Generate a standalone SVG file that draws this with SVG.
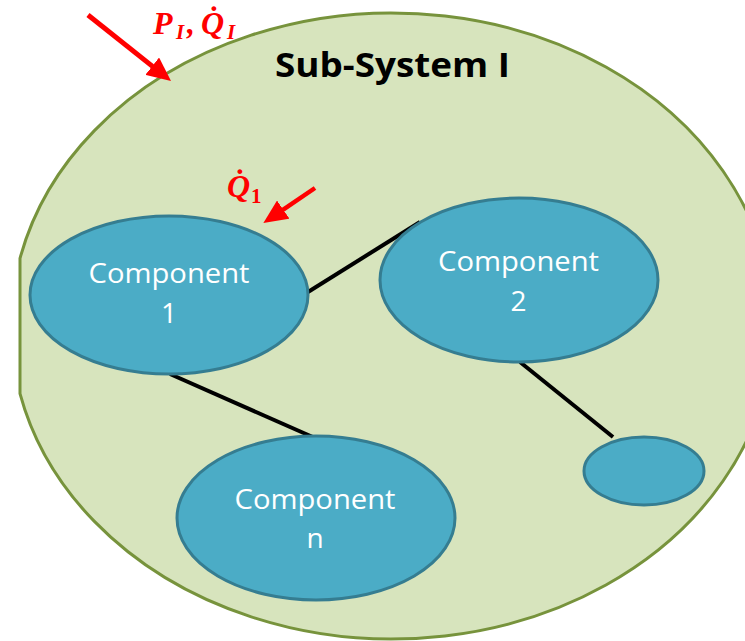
<svg xmlns="http://www.w3.org/2000/svg" width="745" height="641" viewBox="0 0 745 641">
<style>
.sys{fill:#d7e4bd;stroke:#77933c;stroke-width:3}
.comp{fill:#4bacc6;stroke:#357d91;stroke-width:3}
.ct{font-family:"Open Sans","Liberation Sans",sans-serif;font-size:28px;fill:#ffffff;text-anchor:middle}
.title{font-family:"Open Sans","Liberation Sans",sans-serif;font-weight:bold;font-size:34px;fill:#000000;text-anchor:middle}
.conn{stroke:#000000;stroke-width:4;fill:none}
.red{stroke:#ff0000;fill:none}
.lbl{font-family:"Liberation Serif","DejaVu Serif",serif;font-weight:bold;font-style:italic;font-size:32px;fill:#ff0000}
.sub{font-size:21px}
</style>
<defs>
<marker id="ah" markerUnits="userSpaceOnUse" markerWidth="24" markerHeight="22" refX="8" refY="11" orient="auto">
<path d="M0,0 L24,11 L0,22 Z" fill="#ff0000"/>
</marker>
</defs>
<rect width="745" height="641" fill="#ffffff"/>
<g id="subsystem">
<path class="sys" d="M20,258.4 A381,313 0 1,1 20,393.6 Z"/>
<text class="title" x="392.5" y="77" textLength="235" lengthAdjust="spacingAndGlyphs">Sub-System I</text>
</g>
<g id="connectors">
<line class="conn" x1="308" y1="292" x2="420" y2="222"/>
<line class="conn" x1="170" y1="374" x2="315" y2="438"/>
<line class="conn" x1="520" y1="362" x2="613" y2="437"/>
<line class="red" stroke-width="5" x1="88" y1="15" x2="158.5" y2="71.1" marker-end="url(#ah)"/>
<line class="red" stroke-width="4.5" x1="315" y1="188" x2="276.6" y2="214.1" marker-end="url(#ah)"/>
</g>
<g id="component1">
<ellipse class="comp" cx="169" cy="295" rx="139" ry="79"/>
<text class="ct" x="169" y="283" textLength="161" lengthAdjust="spacingAndGlyphs">Component</text>
<text class="ct" x="169" y="323">1</text>
</g>
<g id="component2">
<ellipse class="comp" cx="519" cy="280" rx="139" ry="82"/>
<text class="ct" x="518.5" y="271" textLength="161" lengthAdjust="spacingAndGlyphs">Component</text>
<text class="ct" x="518.5" y="311">2</text>
</g>
<g id="componentn">
<ellipse class="comp" cx="316" cy="518" rx="139" ry="82"/>
<text class="ct" x="315" y="509" textLength="161" lengthAdjust="spacingAndGlyphs">Component</text>
<text class="ct" x="315" y="548">n</text>
</g>
<g id="component-small">
<ellipse class="comp" cx="644" cy="471" rx="60" ry="34"/>
</g>
<g id="label-system-input">
<text class="lbl" y="34"><tspan x="153">P</tspan><tspan class="sub" x="176" dy="5">I</tspan><tspan x="187" dy="-5">,</tspan><tspan x="201">Q̇</tspan><tspan class="sub" x="227" dy="5">I</tspan></text>
</g>
<g id="label-component-heat">
<text class="lbl" y="197"><tspan x="227">Q̇</tspan><tspan class="sub" x="251" dy="6" font-style="normal">1</tspan></text>
</g>
</svg>
